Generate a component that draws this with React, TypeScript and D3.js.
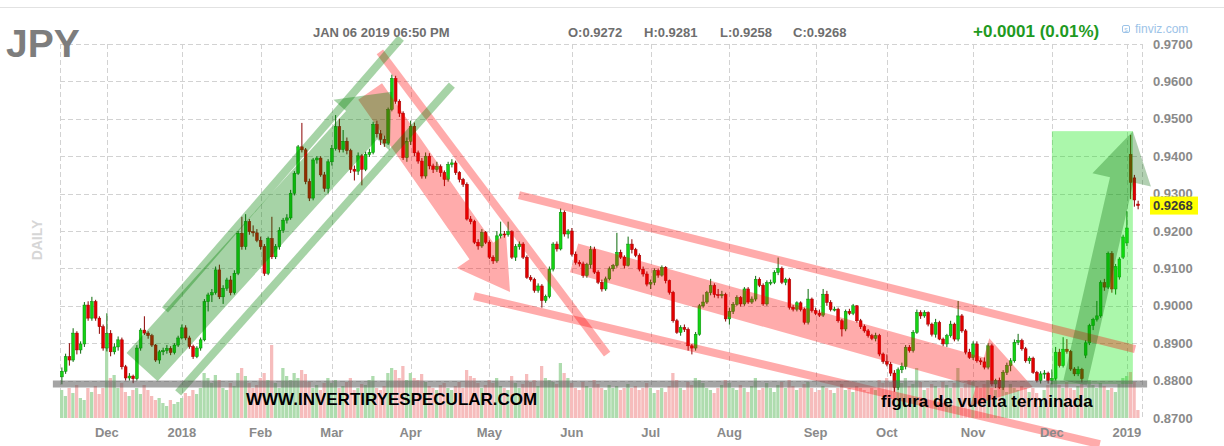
import React from "react";
import * as d3 from "d3";

// Daily JPY futures candles: [open, high, low, close]
type Ohlc = [number, number, number, number];

const nov2017: Ohlc[] = [
  [0.8810, 0.8835, 0.8790, 0.8825], [0.8825, 0.8872, 0.8818, 0.8864], [0.8864, 0.8900, 0.8840, 0.8855],
  [0.8855, 0.8940, 0.8850, 0.8927], [0.8927, 0.8932, 0.8870, 0.8882], [0.8882, 0.8905, 0.8872, 0.8898],
  [0.8898, 0.9010, 0.8890, 0.9002], [0.9002, 0.9012, 0.8960, 0.8967], [0.8967, 0.9024, 0.8960, 0.9011],
  [0.9011, 0.9016, 0.8960, 0.8967], [0.8967, 0.8972, 0.8925, 0.8944], [0.8944, 0.8950, 0.8880, 0.8887],
];
const dec2017: Ohlc[] = [
  [0.8887, 0.8980, 0.8878, 0.8926], [0.8926, 0.8935, 0.8865, 0.8877], [0.8877, 0.8900, 0.8870, 0.8890],
  [0.8890, 0.8918, 0.8880, 0.8909], [0.8909, 0.8915, 0.8830, 0.8837], [0.8837, 0.8842, 0.8800, 0.8807],
  [0.8807, 0.8820, 0.8800, 0.8812], [0.8812, 0.8816, 0.8793, 0.8805], [0.8805, 0.8895, 0.8800, 0.8887],
  [0.8887, 0.8940, 0.8880, 0.8935], [0.8935, 0.8972, 0.8922, 0.8927], [0.8927, 0.8932, 0.8912, 0.8920],
  [0.8920, 0.8925, 0.8890, 0.8895], [0.8895, 0.8898, 0.8850, 0.8855], [0.8855, 0.8882, 0.8845, 0.8877],
  [0.8877, 0.8888, 0.8868, 0.8880], [0.8880, 0.8895, 0.8872, 0.8886], [0.8886, 0.8892, 0.8868, 0.8875],
  [0.8875, 0.8900, 0.8870, 0.8895], [0.8895, 0.8920, 0.8890, 0.8914],
];
const jan2018: Ohlc[] = [
  [0.8914, 0.8950, 0.8910, 0.8941], [0.8941, 0.8948, 0.8908, 0.8914], [0.8914, 0.8920, 0.8885, 0.8891],
  [0.8891, 0.8896, 0.8858, 0.8864], [0.8864, 0.8892, 0.8860, 0.8887], [0.8887, 0.8915, 0.8880, 0.8909],
  [0.8909, 0.9018, 0.8905, 0.9011], [0.9011, 0.9035, 0.8985, 0.9029], [0.9029, 0.9045, 0.9010, 0.9035],
  [0.9035, 0.9105, 0.9030, 0.9096], [0.9096, 0.9110, 0.9018, 0.9024], [0.9024, 0.9055, 0.9005, 0.9047],
  [0.9047, 0.9075, 0.9040, 0.9069], [0.9069, 0.9080, 0.9028, 0.9035], [0.9035, 0.9095, 0.9030, 0.9087],
  [0.9087, 0.9200, 0.9082, 0.9194], [0.9194, 0.9238, 0.9150, 0.9158], [0.9158, 0.9245, 0.9150, 0.9225],
  [0.9225, 0.9232, 0.9190, 0.9198], [0.9198, 0.9215, 0.9185, 0.9195], [0.9195, 0.9205, 0.9170, 0.9175],
];
const feb2018: Ohlc[] = [
  [0.9175, 0.9185, 0.9150, 0.9158], [0.9158, 0.9165, 0.9080, 0.9087], [0.9087, 0.9185, 0.9082, 0.9180],
  [0.9180, 0.9238, 0.9125, 0.9131], [0.9131, 0.9165, 0.9125, 0.9158], [0.9158, 0.9210, 0.9150, 0.9202],
  [0.9202, 0.9235, 0.9195, 0.9229], [0.9229, 0.9245, 0.9220, 0.9235], [0.9235, 0.9310, 0.9230, 0.9301],
  [0.9301, 0.9360, 0.9295, 0.9354], [0.9354, 0.9430, 0.9350, 0.9425], [0.9425, 0.9489, 0.9410, 0.9417],
  [0.9417, 0.9422, 0.9325, 0.9332], [0.9332, 0.9340, 0.9280, 0.9288], [0.9288, 0.9395, 0.9282, 0.9390],
  [0.9390, 0.9400, 0.9380, 0.9395], [0.9395, 0.9400, 0.9345, 0.9350], [0.9350, 0.9358, 0.9305, 0.9314],
  [0.9314, 0.9392, 0.9300, 0.9385],
];
const mar2018: Ohlc[] = [
  [0.9385, 0.9430, 0.9375, 0.9420], [0.9420, 0.9510, 0.9415, 0.9479], [0.9479, 0.9500, 0.9410, 0.9418],
  [0.9418, 0.9470, 0.9410, 0.9440], [0.9440, 0.9450, 0.9405, 0.9415], [0.9415, 0.9420, 0.9355, 0.9365],
  [0.9365, 0.9375, 0.9335, 0.9360], [0.9360, 0.9410, 0.9350, 0.9401], [0.9401, 0.9406, 0.9322, 0.9365],
  [0.9365, 0.9412, 0.9360, 0.9405], [0.9405, 0.9420, 0.9398, 0.9410], [0.9410, 0.9492, 0.9405, 0.9485],
  [0.9485, 0.9495, 0.9450, 0.9460], [0.9460, 0.9470, 0.9430, 0.9445], [0.9445, 0.9455, 0.9425, 0.9435],
  [0.9435, 0.9530, 0.9430, 0.9525], [0.9525, 0.9618, 0.9520, 0.9608], [0.9608, 0.9615, 0.9540, 0.9547],
  [0.9547, 0.9552, 0.9505, 0.9515], [0.9515, 0.9520, 0.9390, 0.9396], [0.9396, 0.9450, 0.9385, 0.9440],
];
const apr2018: Ohlc[] = [
  [0.9440, 0.9495, 0.9430, 0.9480], [0.9480, 0.9490, 0.9400, 0.9409], [0.9409, 0.9415, 0.9380, 0.9387],
  [0.9387, 0.9395, 0.9340, 0.9347], [0.9347, 0.9410, 0.9340, 0.9400], [0.9400, 0.9408, 0.9365, 0.9374],
  [0.9374, 0.9380, 0.9355, 0.9365], [0.9365, 0.9385, 0.9358, 0.9372], [0.9372, 0.9378, 0.9345, 0.9356],
  [0.9356, 0.9362, 0.9320, 0.9338], [0.9338, 0.9385, 0.9332, 0.9378], [0.9378, 0.9392, 0.9370, 0.9382],
  [0.9382, 0.9388, 0.9350, 0.9356], [0.9356, 0.9360, 0.9330, 0.9338], [0.9338, 0.9342, 0.9318, 0.9325],
  [0.9325, 0.9330, 0.9228, 0.9232], [0.9232, 0.9240, 0.9218, 0.9225], [0.9225, 0.9230, 0.9165, 0.9170],
  [0.9170, 0.9178, 0.9150, 0.9160], [0.9160, 0.9205, 0.9155, 0.9196], [0.9196, 0.9200, 0.9165, 0.9170],
];
const may2018: Ohlc[] = [
  [0.9170, 0.9175, 0.9125, 0.9130], [0.9130, 0.9135, 0.9112, 0.9120], [0.9120, 0.9200, 0.9115, 0.9187],
  [0.9187, 0.9225, 0.9180, 0.9192], [0.9192, 0.9200, 0.9182, 0.9190], [0.9190, 0.9225, 0.9185, 0.9198],
  [0.9198, 0.9202, 0.9125, 0.9130], [0.9130, 0.9165, 0.9120, 0.9158], [0.9158, 0.9172, 0.9150, 0.9165],
  [0.9165, 0.9170, 0.9125, 0.9130], [0.9130, 0.9135, 0.9072, 0.9076], [0.9076, 0.9082, 0.9065, 0.9070],
  [0.9070, 0.9075, 0.9035, 0.9041], [0.9041, 0.9060, 0.9035, 0.9053], [0.9053, 0.9058, 0.8995, 0.9014],
  [0.9014, 0.9030, 0.9008, 0.9025], [0.9025, 0.9105, 0.9020, 0.9098], [0.9098, 0.9170, 0.9092, 0.9165],
  [0.9165, 0.9172, 0.9145, 0.9152], [0.9152, 0.9260, 0.9148, 0.9250], [0.9250, 0.9255, 0.9185, 0.9192],
  [0.9192, 0.9205, 0.9180, 0.9200],
];
const jun2018: Ohlc[] = [
  [0.9200, 0.9208, 0.9132, 0.9138], [0.9138, 0.9145, 0.9110, 0.9116], [0.9116, 0.9122, 0.9105, 0.9112],
  [0.9112, 0.9118, 0.9075, 0.9081], [0.9081, 0.9115, 0.9075, 0.9110], [0.9110, 0.9160, 0.9100, 0.9150],
  [0.9150, 0.9158, 0.9085, 0.9090], [0.9090, 0.9095, 0.9058, 0.9063], [0.9063, 0.9070, 0.9038, 0.9045],
  [0.9045, 0.9078, 0.9040, 0.9072], [0.9072, 0.9105, 0.9068, 0.9099], [0.9099, 0.9112, 0.9092, 0.9108],
  [0.9108, 0.9195, 0.9102, 0.9143], [0.9143, 0.9150, 0.9125, 0.9130], [0.9130, 0.9135, 0.9100, 0.9108],
  [0.9108, 0.9185, 0.9105, 0.9165], [0.9165, 0.9178, 0.9140, 0.9150], [0.9150, 0.9155, 0.9130, 0.9135],
  [0.9135, 0.9140, 0.9092, 0.9098], [0.9098, 0.9105, 0.9078, 0.9085], [0.9085, 0.9092, 0.9052, 0.9058],
];
const jul2018: Ohlc[] = [
  [0.9058, 0.9070, 0.9045, 0.9063], [0.9063, 0.9100, 0.9055, 0.9094], [0.9094, 0.9100, 0.9075, 0.9082],
  [0.9082, 0.9108, 0.9078, 0.9103], [0.9103, 0.9106, 0.9060, 0.9067], [0.9067, 0.9070, 0.9030, 0.9036],
  [0.9036, 0.9040, 0.8955, 0.8960], [0.8960, 0.8965, 0.8925, 0.8929], [0.8929, 0.8948, 0.8920, 0.8942],
  [0.8942, 0.8950, 0.8930, 0.8937], [0.8937, 0.8942, 0.8880, 0.8893], [0.8893, 0.8898, 0.8870, 0.8887],
  [0.8887, 0.8930, 0.8880, 0.8924], [0.8924, 0.9005, 0.8920, 0.9000], [0.9000, 0.9030, 0.8995, 0.9010],
  [0.9010, 0.9040, 0.9005, 0.9035], [0.9035, 0.9072, 0.9028, 0.9054], [0.9054, 0.9060, 0.9022, 0.9030],
  [0.9030, 0.9045, 0.9020, 0.9027], [0.9027, 0.9040, 0.9020, 0.9030], [0.9030, 0.9035, 0.8958, 0.8965],
];
const aug2018: Ohlc[] = [
  [0.8965, 0.8995, 0.8950, 0.8985], [0.8985, 0.9010, 0.8978, 0.9004], [0.9004, 0.9028, 0.9000, 0.9022],
  [0.9022, 0.9026, 0.8998, 0.9005], [0.9005, 0.9050, 0.9000, 0.9045], [0.9045, 0.9050, 0.9005, 0.9010],
  [0.9010, 0.9025, 0.9005, 0.9018], [0.9018, 0.9080, 0.9012, 0.9071], [0.9071, 0.9076, 0.9050, 0.9055],
  [0.9055, 0.9060, 0.9000, 0.9005], [0.9005, 0.9068, 0.9000, 0.9062], [0.9062, 0.9070, 0.9055, 0.9063],
  [0.9063, 0.9095, 0.9058, 0.9089], [0.9089, 0.9129, 0.9082, 0.9100], [0.9100, 0.9105, 0.9058, 0.9063],
  [0.9063, 0.9075, 0.9055, 0.9070], [0.9070, 0.9075, 0.8990, 0.8996], [0.8996, 0.9002, 0.8985, 0.8991],
  [0.8991, 0.9012, 0.8985, 0.9008], [0.9008, 0.9012, 0.8985, 0.8990], [0.8990, 0.8995, 0.8950, 0.8956],
  [0.8956, 0.9045, 0.8950, 0.9018], [0.9018, 0.9022, 0.8982, 0.8987],
];
const sep2018: Ohlc[] = [
  [0.8987, 0.8995, 0.8975, 0.8980], [0.8980, 0.8990, 0.8970, 0.8975], [0.8975, 0.9045, 0.8970, 0.9031],
  [0.9031, 0.9040, 0.9000, 0.9009], [0.9009, 0.9015, 0.8985, 0.8990], [0.8990, 0.8998, 0.8985, 0.8991],
  [0.8991, 0.8995, 0.8955, 0.8960], [0.8960, 0.8965, 0.8918, 0.8938], [0.8938, 0.8990, 0.8932, 0.8985],
  [0.8985, 0.8992, 0.8975, 0.8980], [0.8980, 0.9005, 0.8975, 0.9000], [0.9000, 0.9002, 0.8955, 0.8960],
  [0.8960, 0.8965, 0.8938, 0.8944], [0.8944, 0.8950, 0.8928, 0.8933], [0.8933, 0.8938, 0.8915, 0.8920],
  [0.8920, 0.8925, 0.8908, 0.8913], [0.8913, 0.8928, 0.8905, 0.8920], [0.8920, 0.8925, 0.8865, 0.8871],
  [0.8871, 0.8875, 0.8845, 0.8851],
];
const oct2018: Ohlc[] = [
  [0.8851, 0.8870, 0.8838, 0.8844], [0.8844, 0.8850, 0.8812, 0.8820], [0.8820, 0.8828, 0.8770, 0.8782],
  [0.8782, 0.8835, 0.8775, 0.8829], [0.8829, 0.8848, 0.8820, 0.8838], [0.8838, 0.8895, 0.8830, 0.8889],
  [0.8889, 0.8895, 0.8875, 0.8880], [0.8880, 0.8935, 0.8875, 0.8929], [0.8929, 0.8990, 0.8925, 0.8982],
  [0.8982, 0.8988, 0.8965, 0.8973], [0.8973, 0.8988, 0.8968, 0.8982], [0.8982, 0.8985, 0.8945, 0.8951],
  [0.8951, 0.8955, 0.8918, 0.8924], [0.8924, 0.8965, 0.8915, 0.8955], [0.8955, 0.8960, 0.8908, 0.8911],
  [0.8911, 0.8915, 0.8892, 0.8898], [0.8898, 0.8925, 0.8890, 0.8920], [0.8920, 0.8960, 0.8915, 0.8951],
  [0.8951, 0.8955, 0.8905, 0.8911], [0.8911, 0.9013, 0.8905, 0.8973], [0.8973, 0.8978, 0.8928, 0.8933],
  [0.8933, 0.8938, 0.8870, 0.8876], [0.8876, 0.8885, 0.8858, 0.8862],
];
const nov2018: Ohlc[] = [
  [0.8862, 0.8905, 0.8855, 0.8898], [0.8898, 0.8905, 0.8848, 0.8853], [0.8853, 0.8860, 0.8842, 0.8850],
  [0.8850, 0.8862, 0.8830, 0.8836], [0.8836, 0.8900, 0.8830, 0.8893], [0.8893, 0.8898, 0.8785, 0.8791],
  [0.8791, 0.8805, 0.8780, 0.8800], [0.8800, 0.8808, 0.8778, 0.8782], [0.8782, 0.8828, 0.8775, 0.8822],
  [0.8822, 0.8848, 0.8815, 0.8840], [0.8840, 0.8860, 0.8825, 0.8853], [0.8853, 0.8910, 0.8848, 0.8902],
  [0.8902, 0.8925, 0.8895, 0.8907], [0.8907, 0.8912, 0.8880, 0.8885], [0.8885, 0.8890, 0.8848, 0.8853],
  [0.8853, 0.8865, 0.8845, 0.8860], [0.8860, 0.8864, 0.8818, 0.8822], [0.8822, 0.8826, 0.8795, 0.8800],
  [0.8800, 0.8825, 0.8792, 0.8818], [0.8818, 0.8828, 0.8805, 0.8820], [0.8820, 0.8824, 0.8792, 0.8800],
];
const dec2018: Ohlc[] = [
  [0.8800, 0.8830, 0.8790, 0.8806], [0.8806, 0.8890, 0.8800, 0.8876], [0.8876, 0.8885, 0.8835, 0.8840],
  [0.8840, 0.8916, 0.8835, 0.8884], [0.8884, 0.8911, 0.8872, 0.8878], [0.8878, 0.8882, 0.8826, 0.8831],
  [0.8831, 0.8836, 0.8812, 0.8818], [0.8818, 0.8838, 0.8812, 0.8830], [0.8830, 0.8834, 0.8795, 0.8805],
  [0.8868, 0.8908, 0.8860, 0.8901], [0.8901, 0.8952, 0.8895, 0.8947], [0.8947, 0.8968, 0.8935, 0.8964],
  [0.8964, 0.9013, 0.8958, 0.8973], [0.8973, 0.9068, 0.8968, 0.9062], [0.9062, 0.9072, 0.9040, 0.9050],
  [0.9050, 0.9145, 0.9045, 0.9140], [0.9140, 0.9146, 0.9035, 0.9045], [0.9045, 0.9112, 0.9030, 0.9105],
  [0.9077, 0.9130, 0.9070, 0.9125], [0.9130, 0.9190, 0.9125, 0.9184],
];
const jan2019: Ohlc[] = [
  [0.9168, 0.9253, 0.9160, 0.9208], [0.9405, 0.9457, 0.9285, 0.9330],
  [0.9342, 0.9350, 0.9265, 0.9283], [0.9272, 0.9281, 0.9258, 0.9268],
];

// Daily volume (relative units)
const volNov2017 = [28, 22, 30, 25, 33, 20, 18, 30, 26, 32, 24, 30];
const volDec2017 = [71, 40, 43, 30, 35, 26, 22, 28, 30, 24, 33, 28, 22, 18, 20, 15, 12, 18, 14, 16];
const volJan2018 = [20, 25, 22, 28, 24, 30, 45, 40, 35, 43, 38, 30, 28, 35, 32, 45, 50, 42, 35, 30, 33];
const volFeb2018 = [40, 45, 38, 73, 35, 30, 50, 42, 38, 45, 40, 48, 44, 36, 30, 33, 28, 35, 40];
const volMar2018 = [35, 38, 30, 32, 36, 40, 28, 30, 34, 33, 38, 42, 30, 28, 32, 45, 50, 48, 40, 52, 38];
const volApr2018 = [45, 40, 38, 44, 36, 32, 30, 28, 33, 35, 30, 28, 32, 36, 30, 48, 42, 40, 35, 30, 33];
const volMay2018 = [38, 35, 40, 32, 30, 28, 42, 35, 30, 34, 44, 36, 38, 32, 52, 40, 38, 36, 34, 55, 45, 40];
const volJun2018 = [35, 30, 28, 36, 32, 30, 38, 34, 30, 28, 33, 30, 32, 28, 30, 34, 30, 32, 28, 30, 35];
const volJul2018 = [30, 25, 28, 30, 26, 32, 45, 38, 30, 28, 36, 33, 40, 38, 35, 30, 28, 25, 30, 33, 38];
const volAug2018 = [35, 30, 28, 33, 30, 26, 32, 40, 28, 30, 35, 30, 26, 33, 36, 30, 38, 32, 28, 30, 34, 36, 30];
const volSep2018 = [26, 28, 32, 30, 28, 25, 30, 34, 28, 30, 26, 32, 30, 28, 26, 30, 28, 38, 35];
const volOct2018 = [40, 36, 45, 38, 35, 40, 32, 34, 50, 36, 28, 30, 34, 32, 30, 36, 33, 30, 35, 50, 30, 34, 38];
const volNov2018 = [36, 32, 30, 34, 38, 30, 28, 32, 30, 26, 34, 30, 28, 32, 30, 26, 30, 25, 12, 28, 33];
const volDec2018 = [35, 40, 33, 30, 36, 30, 28, 32, 34, 30, 38, 33, 30, 35, 32, 28, 30, 26, 34, 40];
const volJan2019 = [42, 46, 36, 8];

const monthLabels = ["", "Dec", "2018", "Feb", "Mar", "Apr", "May", "Jun", "Jul", "Aug", "Sep", "Oct", "Nov", "Dec", "2019"];
const monthBars = [nov2017, dec2017, jan2018, feb2018, mar2018, apr2018, may2018, jun2018, jul2018, aug2018, sep2018, oct2018, nov2018, dec2018, jan2019];
const monthVolumes = [volNov2017, volDec2017, volJan2018, volFeb2018, volMar2018, volApr2018, volMay2018, volJun2018, volJul2018, volAug2018, volSep2018, volOct2018, volNov2018, volDec2018, volJan2019];

const priceTicks = [0.97, 0.96, 0.95, 0.94, 0.93, 0.92, 0.91, 0.90, 0.89, 0.88, 0.87];

const symbol = "JPY";
const stamp = "JAN 06 2019 06:50 PM";
const changeText = "+0.0001 (0.01%)";

// Drawn annotations, in (bar index, price) coordinates
type Pt = [number, number];
const trendLines: { tone: "red" | "green"; from: Pt; to: Pt }[] = [
  { tone: "red", from: [84.8, 0.9679], to: [145.4, 0.8871] },
  { tone: "red", from: [109.9, 0.9026], to: [276.8, 0.8630] },
  { tone: "red", from: [121.9, 0.9296], to: [286.2, 0.8884] },
  { tone: "green", from: [27.5, 0.8989], to: [90.4, 0.9716] },
  { tone: "green", from: [31.0, 0.8767], to: [104.0, 0.9590] },
];
const trendArrows: { tone: "red" | "green" | "dark"; from: Pt; to: Pt; shaft: number; headLen: number; headHalf: number }[] = [
  { tone: "red", from: [82.2, 0.9573], to: [119.5, 0.9037], shaft: 14.5, headLen: 50, headHalf: 30 },
  { tone: "red", from: [136.6, 0.9128], to: [258.9, 0.8783], shaft: 15, headLen: 55, headHalf: 35 },
  { tone: "green", from: [21.4, 0.8836], to: [88.0, 0.9572], shaft: 21, headLen: 45, headHalf: 38 },
  { tone: "dark", from: [270.2, 0.8794], to: [285.6, 0.9467], shaft: 12, headLen: 50, headHalf: 30 },
];
const breakoutZone = { from: 264.0, to: 285.6, top: 0.9467, bottom: 0.8791 };
const supportLevel = { price: 0.8791, from: -2.4, to: 289.4 };

const FONT = "'Liberation Sans', Arial, Helvetica, sans-serif";
const TONES: Record<string, string> = {
  red: "rgba(255,0,0,0.33)",
  green: "rgba(0,128,0,0.35)",
  dark: "rgba(0,100,0,0.3)",
};

type Candle = { i: number; o: number; h: number; l: number; c: number; v: number };

export default function App() {
  const candles: Candle[] = [];
  const monthStarts: { i: number; label: string }[] = [];
  monthBars.forEach((bars, m) => {
    monthStarts.push({ i: candles.length, label: monthLabels[m] });
    bars.forEach((b, k) => {
      candles.push({ i: candles.length, o: b[0], h: b[1], l: b[2], c: b[3], v: monthVolumes[m][k] });
    });
  });
  const n = candles.length;

  const band = d3.scaleBand<number>().domain(d3.range(n)).range([60, 1140]);
  const bw = band.bandwidth();
  const xc = (i: number) => (band(i) as number) + bw / 2;
  const xAt = d3.scaleLinear().domain([0, n - 1]).range([xc(0), xc(n - 1)]);
  const y = d3.scaleLinear().domain([0.87, 0.97]).range([418, 44]);
  const vy = d3.scaleLinear().domain([0, 100]).range([418, 318]);
  const fmt = d3.format(".4f");

  const plotLeft = 60;
  const plotRight = 1142;
  const last = candles[n - 1];

  const arrowPoints = (a: (typeof trendArrows)[number]) => {
    const t: Pt = [xAt(a.from[0]), y(a.from[1])];
    const h: Pt = [xAt(a.to[0]), y(a.to[1])];
    const dx = h[0] - t[0];
    const dy = h[1] - t[1];
    const len = Math.hypot(dx, dy);
    const ux = dx / len;
    const uy = dy / len;
    const px = -uy;
    const py = ux;
    const bx = h[0] - ux * a.headLen;
    const by = h[1] - uy * a.headLen;
    const pts: Pt[] = [
      [t[0] + px * a.shaft, t[1] + py * a.shaft],
      [bx + px * a.shaft, by + py * a.shaft],
      [bx + px * a.headHalf, by + py * a.headHalf],
      h,
      [bx - px * a.headHalf, by - py * a.headHalf],
      [bx - px * a.shaft, by - py * a.shaft],
      [t[0] - px * a.shaft, t[1] - py * a.shaft],
    ];
    return pts.map((p) => p.join(",")).join(" ");
  };

  const gridColor = "#d2d2d2";
  const axisText = "#8a8a8a";

  return (
    <svg
      width={1224}
      height={446}
      style={{ position: "absolute", left: 0, top: 0, background: "#fff", fontFamily: FONT }}
    >
      <rect x={0} y={0} width={1224} height={446} fill="#fff" />
      <line x1={0} x2={1224} y1={7.5} y2={7.5} stroke="#e2e2e2" />

      {/* grid */}
      <g stroke={gridColor} strokeDasharray="5,3" strokeWidth={1}>
        {priceTicks
          .filter((p) => p > 0.875)
          .map((p) => (
            <line key={p} x1={plotLeft} x2={plotRight} y1={Math.round(y(p)) + 0.5} y2={Math.round(y(p)) + 0.5} />
          ))}
        {monthStarts
          .filter((m) => m.label)
          .map((m) => (
            <line key={m.i} x1={Math.round(xc(m.i)) + 0.5} x2={Math.round(xc(m.i)) + 0.5} y1={44} y2={418} />
          ))}
        <line x1={plotLeft + 0.5} x2={plotLeft + 0.5} y1={44} y2={418} />
        <line x1={plotRight + 0.5} x2={plotRight + 0.5} y1={44} y2={418} />
      </g>

      {/* volume */}
      <g>
        {candles.map((d) => (
          <rect
            key={d.i}
            x={band(d.i) as number}
            width={bw - 0.5}
            y={vy(d.v)}
            height={418 - vy(d.v)}
            fill={d.c >= d.o ? "#aedcae" : "#f6bcbc"}
          />
        ))}
      </g>

      {/* candles */}
      <g>
        {candles.map((d) => {
          const up = d.c >= d.o;
          const x = xc(d.i);
          const top = y(Math.max(d.o, d.c));
          const bot = y(Math.min(d.o, d.c));
          return (
            <g key={d.i}>
              <line x1={x} x2={x} y1={y(d.h)} y2={y(d.l)} stroke={up ? "#0a6a0a" : "#8a0000"} strokeWidth={1} />
              <rect
                x={x - 1.4}
                width={2.8}
                y={top}
                height={Math.max(1, bot - top)}
                fill={up ? "#14d214" : "#e00000"}
                stroke={up ? "#078a07" : "#a00000"}
                strokeWidth={0.5}
              />
            </g>
          );
        })}
      </g>

      {/* breakout zone */}
      <rect
        x={xAt(breakoutZone.from)}
        width={xAt(breakoutZone.to) - xAt(breakoutZone.from)}
        y={y(breakoutZone.top)}
        height={y(breakoutZone.bottom) - y(breakoutZone.top)}
        fill="rgba(0,230,0,0.33)"
      />

      {/* trend lines and arrows */}
      {trendArrows
        .filter((a) => a.tone === "red")
        .map((a, k) => (
          <polygon key={"ra" + k} points={arrowPoints(a)} fill={TONES[a.tone]} />
        ))}
      {trendLines
        .filter((l) => l.tone === "red")
        .map((l, k) => (
          <line
            key={"rl" + k}
            x1={xAt(l.from[0])}
            y1={y(l.from[1])}
            x2={xAt(l.to[0])}
            y2={y(l.to[1])}
            stroke={TONES[l.tone]}
            strokeWidth={8}
          />
        ))}
      {trendLines
        .filter((l) => l.tone === "green")
        .map((l, k) => (
          <line
            key={"gl" + k}
            x1={xAt(l.from[0])}
            y1={y(l.from[1])}
            x2={xAt(l.to[0])}
            y2={y(l.to[1])}
            stroke={TONES[l.tone]}
            strokeWidth={8}
          />
        ))}
      {trendArrows
        .filter((a) => a.tone !== "red")
        .map((a, k) => (
          <polygon key={"ga" + k} points={arrowPoints(a)} fill={TONES[a.tone]} />
        ))}

      {/* support */}
      <line
        x1={xAt(supportLevel.from)}
        x2={xAt(supportLevel.to)}
        y1={y(supportLevel.price)}
        y2={y(supportLevel.price)}
        stroke="rgba(90,90,90,0.55)"
        strokeWidth={7}
      />

      {/* labels on the chart */}
      <text x={246} y={405} fontSize={17} fontWeight="bold" fill="#000">
        WWW.INVERTIRYESPECULAR.COM
      </text>
      <text x={881} y={407} fontSize={17} fontWeight="bold" fill="#000">
        figura de vuelta terminada
      </text>

      {/* price axis */}
      <g fontSize={13} fontWeight="bold" fill={axisText}>
        {priceTicks.map((p) => (
          <text key={p} x={1153} y={y(p)} dy="0.36em">
            {fmt(p)}
          </text>
        ))}
      </g>
      <rect x={1150} y={y(last.c) - 9} width={48} height={18} fill="#ffff00" />
      <text x={1153} y={y(last.c)} dy="0.36em" fontSize={13} fontWeight="bold" fill="#3a3a3a">
        {fmt(last.c)}
      </text>

      {/* time axis */}
      <g fontSize={13} fontWeight="bold" fill={axisText} textAnchor="middle">
        {monthStarts
          .filter((m) => m.label)
          .map((m) => (
            <text key={m.i} x={xc(m.i)} y={437}>
              {m.label}
            </text>
          ))}
      </g>

      {/* header */}
      <text x={6} y={57} fontSize={39} fontWeight="bold" fill="#7d7d7d">
        {symbol}
      </text>
      <text transform="translate(42,240) rotate(-90)" textAnchor="middle" fontSize={14} fontWeight="bold" fill="#d6d6d6">
        DAILY
      </text>
      <g fontSize={13} fontWeight="bold" fill="#6e6e6e">
        <text x={313} y={37}>{stamp}</text>
        <text x={568} y={37}>O:{fmt(last.o)}</text>
        <text x={644} y={37}>H:{fmt(last.h)}</text>
        <text x={720} y={37}>L:{fmt(last.l)}</text>
        <text x={793} y={37}>C:{fmt(last.c)}</text>
      </g>
      <text x={973} y={37} fontSize={17} fontWeight="bold" fill="#1f9a1f">
        {changeText}
      </text>
      <rect x={1122.5} y={25.5} width={7} height={7} rx={1.5} fill="none" stroke="#9cc3e8" />
      <text x={1126} y={31.5} fontSize={7} fill="#9cc3e8" textAnchor="middle">s</text>
      <text x={1135} y={33} fontSize={12} fill="#9cc3e8">
        finviz.com
      </text>
    </svg>
  );
}
